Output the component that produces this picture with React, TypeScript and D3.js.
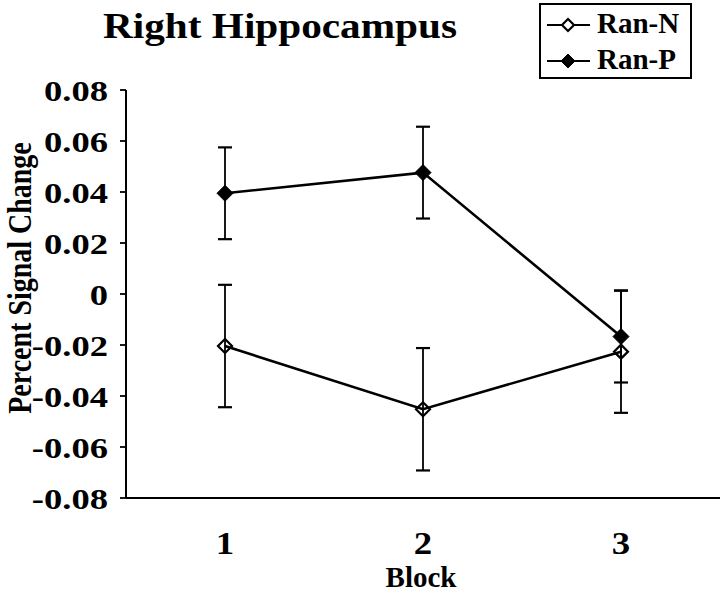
import React from "react";
import * as d3 from "d3";

const blocks = [1, 2, 3];
const ranN = [-0.0204, -0.0452, -0.0226];
const ranNErr = [0.024, 0.024, 0.024];
const ranP = [0.0395, 0.0476, -0.0167];
const ranPErr = [0.018, 0.018, 0.018];
const yTicks = [-0.08, -0.06, -0.04, -0.02, 0, 0.02, 0.04, 0.06, 0.08];
const yTickLabels = ["-0.08", "-0.06", "-0.04", "-0.02", "0", "0.02", "0.04", "0.06", "0.08"];
const seriesNames = ["Ran-N", "Ran-P"];

const W = 720;
const H = 594;
const FONT = "Liberation Serif";

function diamondPath(cx: number, cy: number, r: number) {
  return `M${cx},${cy - r}L${cx + r},${cy}L${cx},${cy + r}L${cx - r},${cy}Z`;
}

export default function App() {
  const x = d3.scaleBand<number>().domain(blocks).range([126, 720]);
  const cx = (b: number) => (x(b) as number) + x.bandwidth() / 2;
  const y = d3.scaleLinear().domain([-0.08, 0.08]).range([498, 90]);
  const line = d3
    .line<number>()
    .x((_, i) => cx(blocks[i]))
    .y((v) => y(v));

  const series = [
    { name: seriesNames[0], vals: ranN, errs: ranNErr, filled: false },
    { name: seriesNames[1], vals: ranP, errs: ranPErr, filled: true },
  ];

  const ts: React.CSSProperties = { fontFamily: FONT, fontWeight: 700 };

  return (
    <div style={{ position: "fixed", left: 0, top: 0 }}>
      <svg width={W} height={H} style={{ display: "block", background: "#fff" }}>
        {/* title */}
        <text x={103} y={38} fontSize={35} style={ts} textLength={354} lengthAdjust="spacingAndGlyphs">
          Right Hippocampus
        </text>

        {/* y axis */}
        <line x1={126} x2={126} y1={y(0.08)} y2={y(-0.08)} stroke="#000" strokeWidth={2} />
        {yTicks.map((t, i) => (
          <g key={"yt" + i}>
            <line x1={120} x2={126} y1={y(t)} y2={y(t)} stroke="#000" strokeWidth={1.8} />
            <text
              transform={`translate(108,${y(t) + 10.5}) scale(1.22,1)`}
              textAnchor="end"
              fontSize={30}
              style={ts}
            >
              {yTickLabels[i]}
            </text>
          </g>
        ))}
        {/* x axis */}
        <line x1={126} x2={720} y1={y(-0.08)} y2={y(-0.08)} stroke="#000" strokeWidth={2} />
        {blocks.map((b) => (
          <text key={"xt" + b} transform={`translate(${cx(b)},554) scale(1.15,1)`} textAnchor="middle" fontSize={32} style={ts}>
            {b}
          </text>
        ))}

        {/* axis titles */}
        <text transform="translate(31,278) scale(1.2,1) rotate(-90)" textAnchor="middle" fontSize={28} style={ts}>
          Percent Signal Change
        </text>
        <text x={421} y={587} textAnchor="middle" fontSize={29} style={ts}>
          Block
        </text>

        {/* series */}
        {series.map((s) => (
          <g key={s.name}>
            <path d={line(s.vals) || ""} fill="none" stroke="#000" strokeWidth={2.6} />
            {s.vals.map((v, i) => {
              const px = cx(blocks[i]);
              return (
                <g key={i}>
                  <path
                    d={diamondPath(px, y(v), s.filled ? 8 : 7)}
                    fill={s.filled ? "#000" : "none"}
                    stroke="#000"
                    strokeWidth={s.filled ? 1 : 2.2}
                  />
                  <line x1={px} x2={px} y1={y(v + s.errs[i])} y2={y(v - s.errs[i])} stroke="#000" strokeWidth={1.8} />
                  <line x1={px - 7} x2={px + 7} y1={y(v + s.errs[i])} y2={y(v + s.errs[i])} stroke="#000" strokeWidth={2.2} />
                  <line x1={px - 7} x2={px + 7} y1={y(v - s.errs[i])} y2={y(v - s.errs[i])} stroke="#000" strokeWidth={2.2} />
                </g>
              );
            })}
          </g>
        ))}

        {/* legend */}
        <rect x={540} y={4} width={151} height={74} fill="#fff" stroke="#000" strokeWidth={2} />
        {series.map((s, i) => {
          const ry = i === 0 ? 25 : 61;
          return (
            <g key={"lg" + i}>
              <line x1={547} x2={590} y1={ry} y2={ry} stroke="#000" strokeWidth={2.2} />
              <path
                d={diamondPath(568, ry, s.filled ? 7 : 6)}
                fill={s.filled ? "#000" : "#fff"}
                stroke="#000"
                strokeWidth={s.filled ? 1 : 2.2}
              />
              <text x={597} y={ry + 7.5} fontSize={29} style={ts}>
                {s.name}
              </text>
            </g>
          );
        })}
      </svg>
    </div>
  );
}
